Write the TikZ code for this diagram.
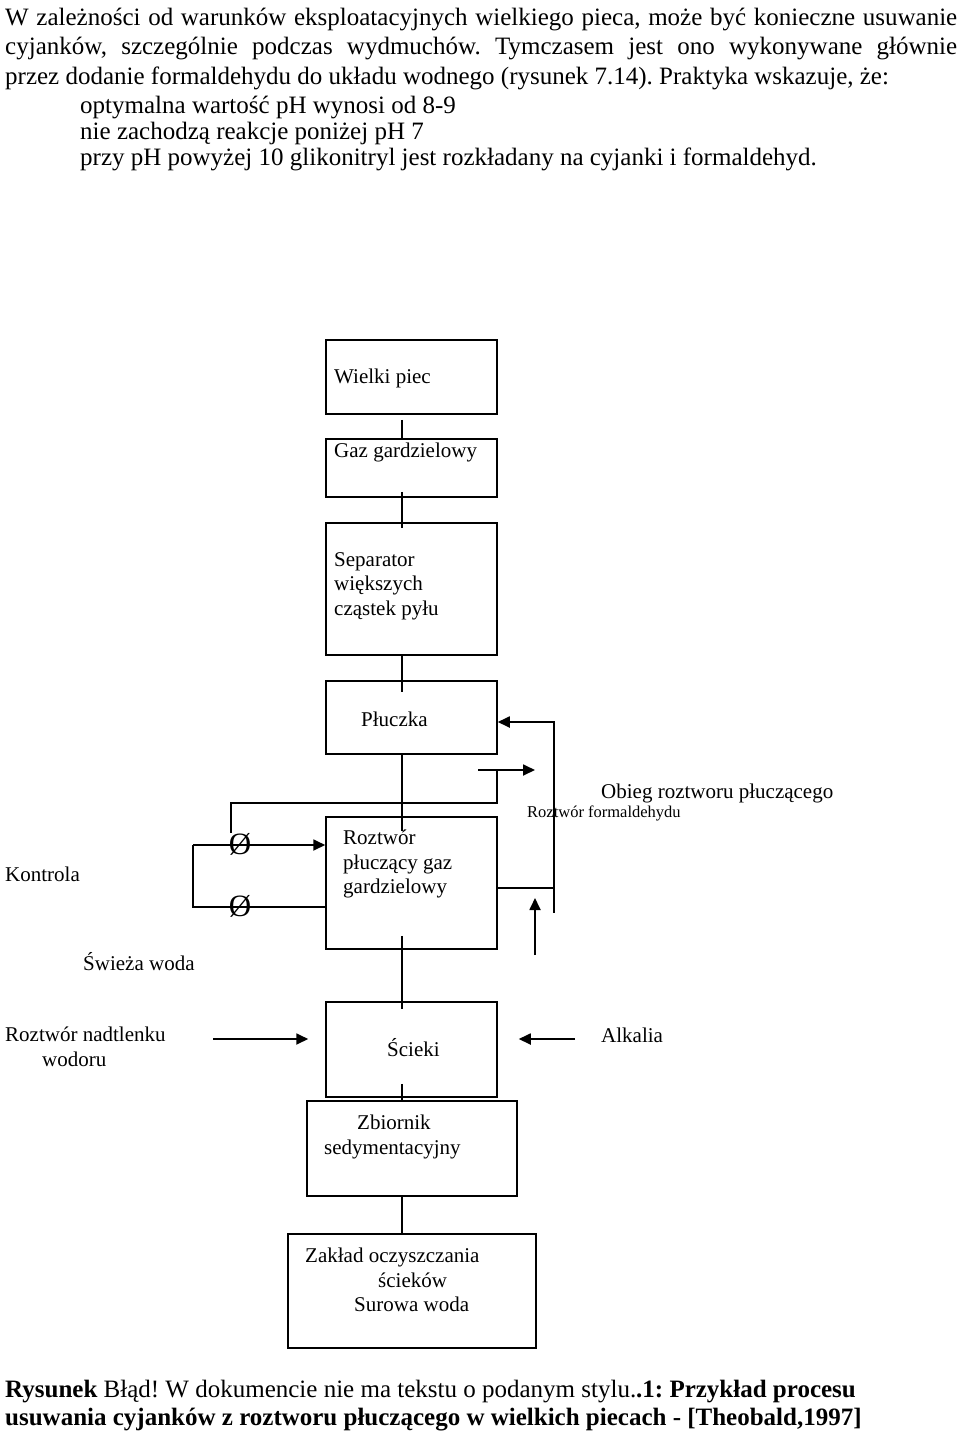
\documentclass[tikz,border=0pt]{standalone}
\usepackage{fontspec}
\setmainfont{Liberation Serif}
\usetikzlibrary{arrows.meta,calc}
\newcommand\bodyfont{\fontsize{25}{29}\selectfont\frenchspacing}
\newcommand\diagfont{\fontsize{21}{24.5}\selectfont}
\newcommand\smallfont{\fontsize{16.5}{19}\selectfont}
\newcommand\capfont{\fontsize{25}{28}\selectfont\frenchspacing}
\newcommand\valvefont{\fontsize{31}{32}\selectfont}

\begin{document}
\begin{tikzpicture}[x=1pt, y=-1pt,
    box/.style={draw, line width=1.5pt, inner sep=0pt},
    txt/.style={inner sep=0pt, anchor=west, font=\diagfont, align=left},
    para/.style={inner sep=0pt, anchor=base west, font=\bodyfont},
    link/.style={line width=1.8pt},
    arrow/.style={line width=1.8pt, -{Triangle[length=12pt,width=11pt]}}
  ]
  \useasboundingbox (0,0) rectangle (960,1434);

  % tekst nad rysunkiem
  \node[para] (p1) at (5,26) {\makebox[952pt][s]{W zależności od warunków eksploatacyjnych wielkiego pieca, może być konieczne usuwanie}};
  \node[para] (p2) at (5,55) {\makebox[952pt][s]{cyjanków, szczególnie podczas wydmuchów. Tymczasem jest ono wykonywane głównie}};
  \node[para] (p3) at (5,85) {przez dodanie formaldehydu do układu wodnego (rysunek 7.14). Praktyka wskazuje, że:};
  \node[para] (p4) at (80,114) {optymalna wartość pH wynosi od 8-9};
  \node[para] (p5) at (80,140) {nie zachodzą reakcje poniżej pH 7};
  \node[para] (p6) at (80,166) {przy pH powyżej 10 glikonitryl jest rozkładany na cyjanki i formaldehyd.};

  % bloki
  \node[box, minimum width=171pt, minimum height=74pt] (piec) at (411.5,377) {};
  \node[box, minimum width=171pt, minimum height=58pt] (gaz) at (411.5,468) {};
  \node[box, minimum width=171pt, minimum height=132pt] (sep) at (411.5,589) {};
  \node[box, minimum width=171pt, minimum height=73pt] (pl) at (411.5,717.5) {};
  \node[box, minimum width=171pt, minimum height=132pt] (roz) at (411.5,883) {};
  \node[box, minimum width=171pt, minimum height=95pt] (sc) at (411.5,1049.5) {};
  \node[box, minimum width=210pt, minimum height=95pt] (zb) at (412,1148.5) {};
  \node[box, minimum width=248pt, minimum height=114pt] (zk) at (412,1291) {};

  \node[txt] (t-piec) at (334,378) {Wielki piec};
  \node[txt] (t-gaz) at (334,452) {Gaz gardzielowy};
  \node[txt, anchor=north west] (t-sep) at (334,552) {Separator\\większych\\cząstek pyłu};
  \node[txt] (t-pl) at (361,719) {Płuczka};
  \node[txt, anchor=north west] (t-roz) at (343,830) {Roztwór\\płuczący gaz\\gardzielowy};
  \node[txt] (t-sc) at (387,1048) {Ścieki};
  \node[txt, anchor=north west] (t-zb) at (324,1115) {\hspace*{33pt}Zbiornik\\sedymentacyjny};
  \node[txt, anchor=north west] (t-zk) at (305,1248) {Zakład oczyszczania\\\hspace*{73pt}ścieków\\\hspace*{49pt}Surowa woda};

  % opisy
  \node[txt] (kontrola) at (5,874) {Kontrola};
  \node[txt] (woda) at (83,962) {Świeża woda};
  \node[txt] (obieg) at (601,793) {Obieg roztworu płuczącego};
  \node[txt, font=\smallfont] (formal) at (527,813) {Roztwór formaldehydu};
  \node[txt, anchor=north west] (nadtl) at (5,1027) {Roztwór nadtlenku\\\hspace*{37pt}wodoru};
  \node[txt] (alk) at (601,1035) {Alkalia};

  % zawory
  \node[inner sep=0pt, font=\valvefont] (v1) at (240,844) {Ø};
  \node[inner sep=0pt, font=\valvefont] (v2) at (240,906) {Ø};

  % ciag glowny
  \coordinate (colx) at (402,0);
  \draw[link] ($(piec.south -| colx)+(0,5)$) -- (gaz.north -| colx);
  \draw[link] ($(gaz.south -| colx)+(0,-6)$) -- ($(sep.north -| colx)+(0,6)$);
  \draw[link] (sep.south -| colx) -- ($(pl.north -| colx)+(0,12)$);
  \draw[link] (pl.south -| colx) -- ($(roz.north -| colx)+(0,15)$);
  \draw[link] ($(roz.south -| colx)+(0,-14)$) -- ($(sc.north -| colx)+(0,8)$);
  \draw[link] ($(sc.south -| colx)+(0,-14)$) -- (zb.north -| colx);
  \draw[link] (zb.south -| colx) -- (zk.north -| colx);

  % swieza woda
  \coordinate (ua) at (193,845);
  \coordinate (la) at (193,907);
  \draw[arrow] (ua) -- (roz.west |- ua);
  \draw[link] (ua) -- (la) -- (roz.west |- la);
  \coordinate (ta) at (231,803);
  \coordinate (tb) at (497,770);
  \draw[link] (v1.north -| ta) -- (ta) -| (tb);
  \coordinate (fa) at (478,770);
  \coordinate (fb) at (535,770);
  \draw[arrow] (fa) -- (fb);

  % obieg
  \coordinate (rl) at (554,888);
  \coordinate (rlb) at (554,913);
  \draw[arrow] (roz.east |- rl) -- (rl) |- ($(pl.east)+(0,4.5)$);
  \draw[link] (rl) -- (rlb);
  \coordinate (fu) at (535,955);
  \coordinate (fv) at (535,898);
  \draw[arrow] (fu) -- (fv);

  % scieki
  \coordinate (hl) at (213,1039);
  \coordinate (hr) at (575,1039);
  \draw[arrow] (hl) -- ($(sc.west |- hl)+(-17,0)$);
  \draw[arrow] (hr) -- ($(sc.east |- hr)+(21,0)$);

  % podpis
  \node[para, font=\capfont] (c1) at (5,1397) {\textbf{Rysunek} Błąd! W dokumencie nie ma tekstu o podanym stylu.\textbf{.1: Przykład procesu}};
  \node[para, font=\capfont] (c2) at (5,1425) {\textbf{usuwania cyjanków z roztworu płuczącego w wielkich piecach - [Theobald,1997]}};
\end{tikzpicture}
\end{document}
